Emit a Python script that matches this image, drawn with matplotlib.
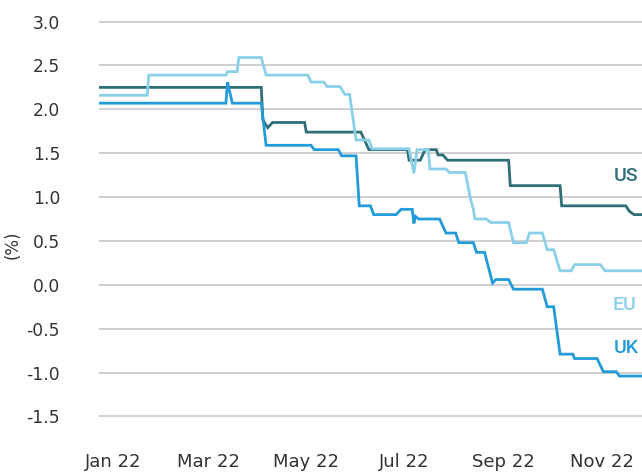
import matplotlib
matplotlib.use("Agg")
import matplotlib.pyplot as plt
import pandas as pd

# ---- data ----
us_dates = ["2021-12-23", "2022-04-03", "2022-04-04", "2022-04-07", "2022-04-10", "2022-04-30",
            "2022-05-01", "2022-06-04", "2022-06-09", "2022-07-03", "2022-07-04", "2022-07-11",
            "2022-07-14", "2022-07-21", "2022-07-22", "2022-07-25", "2022-07-28", "2022-09-04",
            "2022-09-05", "2022-10-06", "2022-10-07", "2022-11-16", "2022-11-18", "2022-11-21",
            "2022-11-26"]
us_values = [2.25, 2.25, 1.88, 1.79, 1.85, 1.85,
             1.74, 1.74, 1.54, 1.54, 1.42, 1.42,
             1.54, 1.54, 1.48, 1.48, 1.42, 1.42,
             1.13, 1.13, 0.90, 0.90, 0.84, 0.80,
             0.80]

eu_dates = ["2021-12-23", "2022-01-22", "2022-01-23", "2022-03-12", "2022-03-13", "2022-03-19",
            "2022-03-20", "2022-04-03", "2022-04-06", "2022-05-02", "2022-05-04", "2022-05-12",
            "2022-05-14", "2022-05-22", "2022-05-25", "2022-05-28", "2022-06-01", "2022-06-09",
            "2022-06-11", "2022-07-04", "2022-07-07", "2022-07-09", "2022-07-16", "2022-07-17",
            "2022-07-27", "2022-07-29", "2022-08-08", "2022-08-11", "2022-08-13", "2022-08-14",
            "2022-08-21", "2022-08-24", "2022-09-04", "2022-09-07", "2022-09-15", "2022-09-17",
            "2022-09-25", "2022-09-28", "2022-10-02", "2022-10-06", "2022-10-13", "2022-10-15",
            "2022-10-31", "2022-11-03", "2022-11-26"]
eu_values = [2.16, 2.16, 2.39, 2.39, 2.43, 2.43,
             2.59, 2.59, 2.39, 2.39, 2.31, 2.31,
             2.26, 2.26, 2.17, 2.17, 1.65, 1.65,
             1.55, 1.55, 1.27, 1.54, 1.54, 1.32,
             1.32, 1.28, 1.28, 1.00, 0.86, 0.75,
             0.75, 0.71, 0.71, 0.48, 0.48, 0.59,
             0.59, 0.40, 0.40, 0.16, 0.16, 0.23,
             0.23, 0.16, 0.16]

uk_dates = ["2021-12-23", "2022-03-12", "2022-03-13", "2022-03-16", "2022-04-03", "2022-04-06",
            "2022-05-04", "2022-05-06", "2022-05-21", "2022-05-23", "2022-06-01", "2022-06-03",
            "2022-06-10", "2022-06-12", "2022-06-26", "2022-06-29", "2022-07-06", "2022-07-07",
            "2022-07-08", "2022-07-10", "2022-07-23", "2022-07-27", "2022-08-02", "2022-08-04",
            "2022-08-13", "2022-08-15", "2022-08-20", "2022-08-25", "2022-08-27", "2022-09-04",
            "2022-09-07", "2022-09-25", "2022-09-28", "2022-10-02", "2022-10-06", "2022-10-14",
            "2022-10-15", "2022-10-29", "2022-11-02", "2022-11-10", "2022-11-12", "2022-11-26"]
uk_values = [2.07, 2.07, 2.31, 2.07, 2.07, 1.59,
             1.59, 1.54, 1.54, 1.47, 1.47, 0.90,
             0.90, 0.80, 0.80, 0.86, 0.86, 0.70,
             0.78, 0.75, 0.75, 0.59, 0.59, 0.48,
             0.48, 0.37, 0.37, 0.02, 0.06, 0.06,
             -0.05, -0.05, -0.25, -0.25, -0.79, -0.79,
             -0.84, -0.84, -0.99, -0.99, -1.04, -1.04]

series_names = ["US", "EU", "UK"]
series_colors = ["#2f6f78", "#8ad0e8", "#229bd8"]
label_pos = [("2022-11-16", 1.24), ("2022-11-15", -0.23), ("2022-11-16", -0.72)]
x_start, x_end = "2021-12-23", "2022-11-26"
y_ticks = [-1.5, -1.0, -0.5, 0.0, 0.5, 1.0, 1.5, 2.0, 2.5, 3.0]
x_ticks = ["2022-01-01", "2022-03-01", "2022-05-01", "2022-07-01", "2022-09-01", "2022-11-01"]
x_tick_labels = ["Jan 22", "Mar 22", "May 22", "Jul 22", "Sep 22", "Nov 22"]

# ---- plot ----
fig = plt.figure(figsize=(6.42, 4.73), dpi=100)
ax = fig.add_axes([99 / 642, (473 - 416.7) / 473, 543 / 642, 395.4 / 473])

all_data = [(us_dates, us_values), (eu_dates, eu_values), (uk_dates, uk_values)]
order = [1, 0, 2]  # EU below US, UK on top
for i in order:
    d, v = all_data[i]
    ax.plot(pd.to_datetime(d), v, color=series_colors[i], lw=2.0,
            solid_joinstyle="miter", zorder=3 + i)

for name, col, (ld, lv) in zip(series_names, series_colors, label_pos):
    ax.text(pd.Timestamp(ld), lv, name, color=col, fontsize=14,
            family=["Roboto", "DejaVu Sans"], fontweight="medium",
            ha="center", va="center")

ax.set_xlim(pd.Timestamp(x_start), pd.Timestamp(x_end))
ax.set_ylim(-1.503, 3.003)
ax.set_yticks(y_ticks)
ax.set_yticklabels([f"{t:.1f}" for t in y_ticks])
ax.set_xticks(pd.to_datetime(x_ticks))
ax.set_xticklabels(x_tick_labels)

ax.grid(axis="y", color="#c8c8c8", lw=1.2)
ax.grid(axis="x", visible=False)
ax.set_axisbelow(True)
for s in ax.spines.values():
    s.set_visible(False)
ax.tick_params(axis="y", length=0, pad=28, labelsize=12.3, labelcolor="#333333")
ax.tick_params(axis="x", length=0, pad=26, labelsize=13, labelcolor="#333333")

ax.set_ylabel("(%)", fontsize=12, color="#333333")
ax.yaxis.set_label_coords((22 - 99) / 543, (416.7 - 244.5) / 395.4)

fig.savefig("out.png", dpi=100)
